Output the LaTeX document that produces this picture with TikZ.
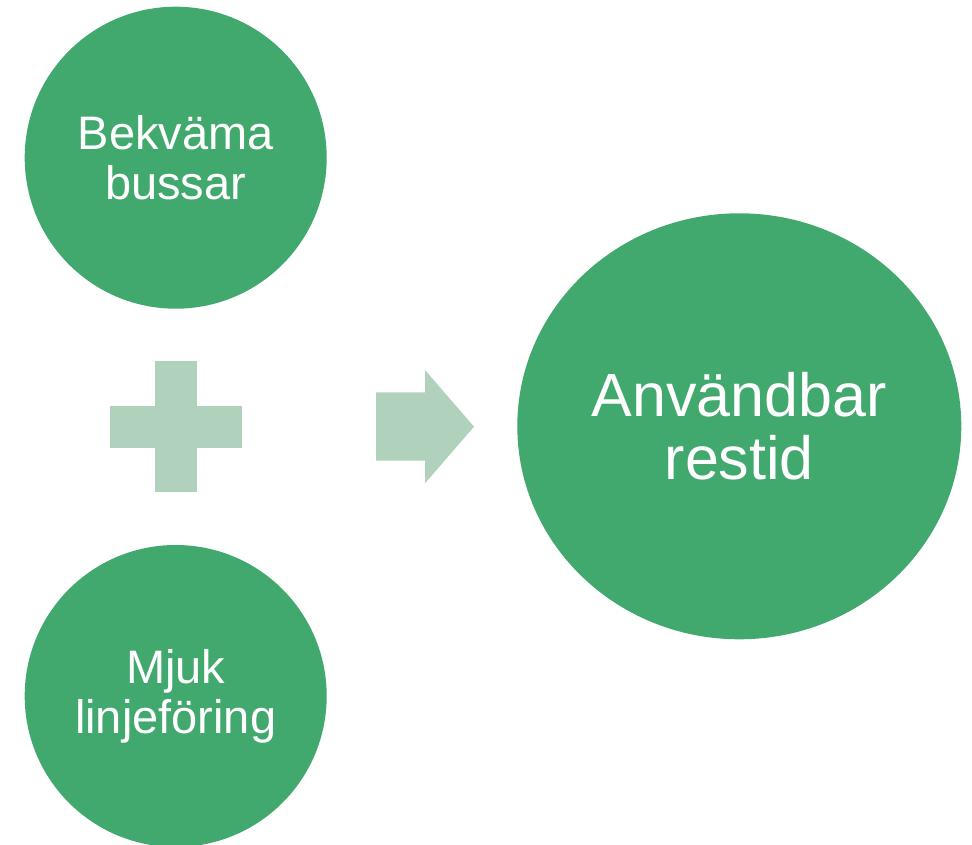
\documentclass[tikz,border=0pt]{standalone}
\usepackage{fontspec}
\setmainfont{Liberation Sans}
\usetikzlibrary{shapes.geometric}
\definecolor{leafgreen}{RGB}{66,169,110}
\definecolor{palegreen}{RGB}{176,210,188}

\begin{document}
\begin{tikzpicture}[x=1pt,y=-1pt,
	bubble/.style={circle,fill=leafgreen,text=white,align=center,inner sep=0pt,minimum size=302pt,font=\fontsize{47}{50}\selectfont},
	result/.style={ellipse,fill=leafgreen,text=white,align=center,inner sep=0pt,minimum width=444pt,minimum height=426pt,font=\fontsize{61}{63}\selectfont}]
		\useasboundingbox (0,0) rectangle (972,845);
		\node[bubble] (comfort) at (175.7,157.7) {Bekväma\\bussar};
		\node[bubble] (routing) at (175.7,696) {Mjuk\\linjeföring};
		\node[result] (traveltime) at (739.3,426.3) {Användbar\\restid};
		% plus
		\fill[palegreen] (154.7,361) rectangle (196.7,492.3);
		\fill[palegreen] (110,405.7) rectangle (241.7,447.7);
		% arrow
		\fill[palegreen] (376,392.3) -- (425,392.3) -- (425,370) -- (474,426.7) -- (425,483.3) -- (425,460.7) -- (376,460.7) -- cycle;
\end{tikzpicture}
\end{document}
